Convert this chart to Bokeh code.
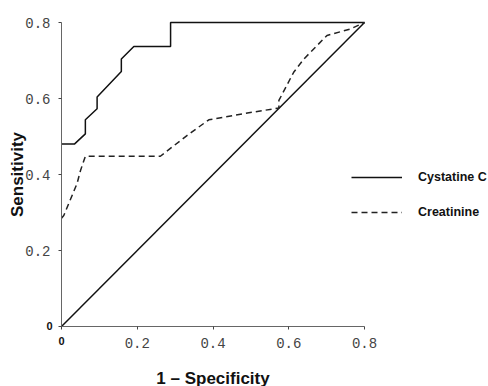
from bokeh.plotting import figure
from bokeh.models import Range1d, FixedTicker, Legend, LegendItem, Label
from bokeh.embed import file_html
from bokeh.resources import INLINE

# ROC curve data (1 - specificity, sensitivity)
cys_x = [0, 0.034, 0.063, 0.063, 0.094, 0.094, 0.158, 0.158, 0.191, 0.288, 0.288, 0.8]
cys_y = [0.48, 0.48, 0.507, 0.544, 0.573, 0.604, 0.671, 0.704, 0.737, 0.737, 0.8, 0.8]

cre_x = [0, 0.006, 0.041, 0.05, 0.063, 0.261, 0.275, 0.332, 0.389, 0.48, 0.574, 0.574, 0.613, 0.640, 0.701, 0.763, 0.8]
cre_y = [0.285, 0.292, 0.376, 0.41, 0.448, 0.448, 0.459, 0.503, 0.544, 0.56, 0.575, 0.595, 0.669, 0.704, 0.766, 0.783, 0.8]

ref_x = [0, 0.8]
ref_y = [0, 0.8]

ticks = [0, 0.2, 0.4, 0.6, 0.8]
tick_labels = {0: "", 0.2: "0.2", 0.4: "0.4", 0.6: "0.6", 0.8: "0.8"}
series_names = ["Cystatine C", "Creatinine"]

W, H = 488, 386
# pixel placement of the data box inside the figure
X0, XPX = 61, 303    # x=0 at 61 px, 0.8 spans 303 px
Y0, YPX = 326, 304   # y=0 at 326 px from top, 0.8 spans 304 px
x_start = -X0 * 0.8 / XPX
x_end = (W - X0) * 0.8 / XPX
y_end = Y0 * 0.8 / YPX
y_start = -(H - Y0) * 0.8 / YPX

p = figure(width=W, height=H, output_backend="svg", toolbar_location=None, title=None,
           x_range=Range1d(x_start, x_end), y_range=Range1d(y_start, y_end),
           min_border=0)
p.outline_line_color = None
p.grid.visible = False
p.background_fill_color = "white"
p.border_fill_color = "white"

for ax in (p.xaxis, p.yaxis):
    ax.ticker = FixedTicker(ticks=ticks)
    ax.major_label_overrides = tick_labels
    ax.bounds = (0, 0.8)
    ax.fixed_location = 0
    ax.minor_tick_line_color = None
    ax.major_tick_in = 0
    ax.major_tick_out = 3
    ax.axis_line_color = "#666666"
    ax.major_tick_line_color = "#444444"
    ax.major_label_text_font = "Liberation Mono"
    ax.major_label_text_font_size = "14px"
    ax.major_label_text_color = "#444444"
    ax.axis_label_text_font = "Liberation Sans"
    ax.axis_label_text_font_style = "bold"
    ax.axis_label_text_font_size = "17px"
    ax.axis_label_text_color = "#111111"

p.xaxis.axis_label = "1 \u2013 Specificity"
p.yaxis.axis_label = "Sensitivity"
p.xaxis.major_label_standoff = 8
p.xaxis.axis_label_standoff = 18
p.yaxis.major_label_standoff = 8
p.yaxis.axis_label_standoff = -5

p.line(ref_x, ref_y, line_color="#111111", line_width=1.5)
r1 = p.line(cys_x, cys_y, line_color="#111111", line_width=1.5)
r2 = p.line(cre_x, cre_y, line_color="#222222", line_width=1.5, line_dash="6 4")

legend = Legend(items=[LegendItem(label=series_names[0], renderers=[r1]),
                       LegendItem(label=series_names[1], renderers=[r2])],
                location=(351, 164), padding=0, margin=0, spacing=15,
                glyph_width=51, glyph_height=20, label_height=20, label_standoff=16,
                border_line_color=None, background_fill_alpha=0,
                label_text_font="Liberation Sans", label_text_font_style="bold",
                label_text_font_size="12.5px", label_text_color="#111111")
p.add_layout(legend)

for xo, yo, al in [(0, -14, "center"), (-9, 1, "right")]:
    p.add_layout(Label(x=0, y=0, x_offset=xo, y_offset=yo, text="0", text_align=al,
                       text_baseline="middle", text_font="Liberation Sans", text_font_style="bold",
                       text_font_size="11px", text_color="#111111"))

open("out.html", "w").write(file_html(p, INLINE))
